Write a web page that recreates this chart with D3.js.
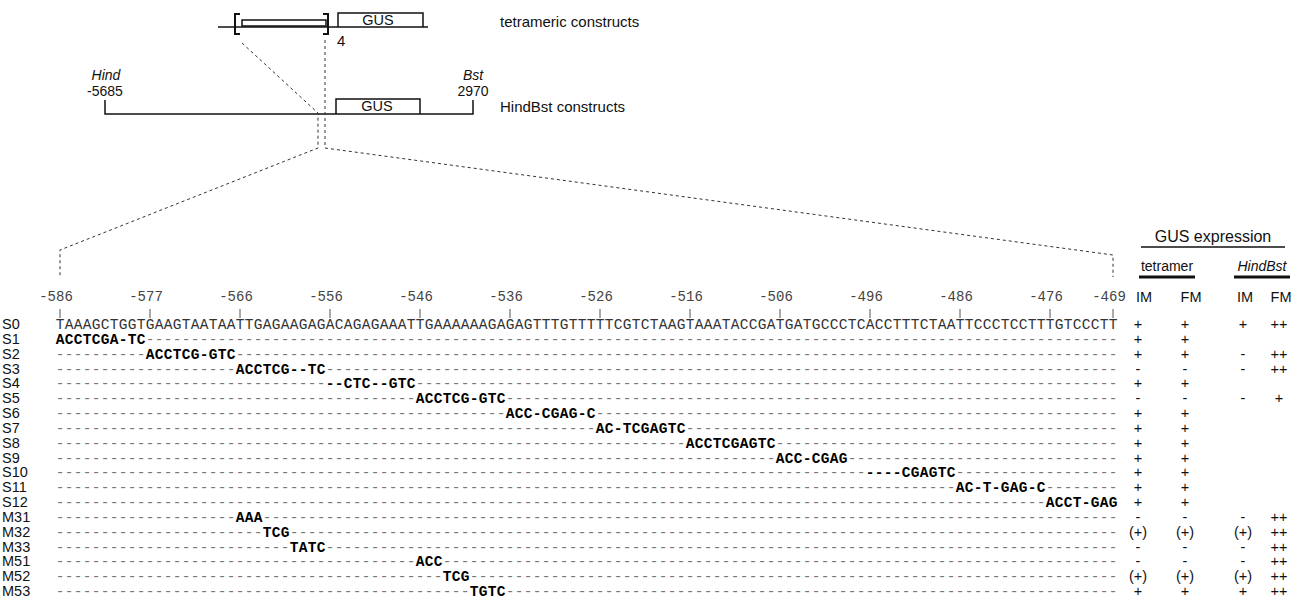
<!DOCTYPE html>
<html>
<head>
<meta charset="utf-8">
<script src="https://cdn.jsdelivr.net/npm/d3@7"></script>
<style>
  body { margin: 0; background: #fff; }
  svg { display: block; }
  .sans { font-family: "Liberation Sans", Arial, sans-serif; }
  .mono { font-family: "Liberation Mono", "Courier New", monospace; }
</style>
</head>
<body>
<div id="chart"></div>
<script>
// ---- data ----
const wildType = "TAAAGCTGGTGAAGTAATAATTGAGAAGAGACAGAGAAATTGAAAAAAGAGAGTTTGTTTTTCGTCTAAGTAAATACCGATGATGCCCTCACCTTTCTAATTCCCTCCTTTGTCCCTT";
const tickLabels = ["-586", "-577", "-566", "-556", "-546", "-536", "-526", "-516", "-506", "-496", "-486", "-476", "-469"];
const tickIndex = [0, 10, 20, 30, 40, 50, 60, 70, 80, 90, 100, 110, 117];

const constructs = ["S0", "S1", "S2", "S3", "S4", "S5", "S6", "S7", "S8", "S9", "S10", "S11", "S12",
                    "M31", "M32", "M33", "M51", "M52", "M53"];
// mutated block per construct (S0 = wild type)
const mutStart = [null, 0, 10, 20, 30, 40, 50, 60, 70, 80, 90, 100, 110, 20, 23, 26, 40, 43, 46];
const mutSeq = [null, "ACCTCGA-TC", "ACCTCG-GTC", "ACCTCG--TC", "--CTC--GTC", "ACCTCG-GTC", "ACC-CGAG-C",
                "AC-TCGAGTC", "ACCTCGAGTC", "ACC-CGAG", "----CGAGTC", "AC-T-GAG-C", "ACCT-GAG",
                "AAA", "TCG", "TATC", "ACC", "TCG", "TGTC"];

const exprColumns = ["IM", "FM", "IM", "FM"];
const tetramerIM = ["+", "+", "+", "-", "+", "-", "+", "+", "+", "+", "+", "+", "+", "-", "(+)", "-", "-", "(+)", "+"];
const tetramerFM = ["+", "+", "+", "-", "+", "-", "+", "+", "+", "+", "+", "+", "+", "-", "(+)", "-", "-", "(+)", "+"];
const hindBstIM  = ["+", "", "-", "-", "", "-", "", "", "", "", "", "", "", "-", "(+)", "-", "-", "(+)", "+"];
const hindBstFM  = ["++", "", "++", "++", "", "+", "", "", "", "", "", "", "", "++", "++", "++", "++", "++", "++"];

// ---- layout ----
const W = 1298, H = 603;
const svg = d3.select("#chart").append("svg")
    .attr("width", W)
    .attr("height", H);

const xScale = d3.scaleLinear().domain([0, wildType.length - 1]).range([60, 1113]);
const yScale = d3.scalePoint().domain(constructs).range([324, 591]);
const colX = d3.scaleOrdinal().domain([0, 1, 2, 3]).range([1138, 1185, 1243, 1279]);

const ink = "#111";

// ---- top construct diagram ----
const diagram = svg.append("g").attr("stroke", ink).attr("fill", "none");

// tetrameric construct
diagram.append("line").attr("x1", 218).attr("x2", 428).attr("y1", 27).attr("y2", 27).attr("stroke-width", 1.5);
diagram.append("rect").attr("x", 242).attr("y", 20).attr("width", 84).attr("height", 6).attr("stroke-width", 1.5);
diagram.append("path").attr("d", "M240,14 H235 V34 H240").attr("stroke-width", 2);
diagram.append("path").attr("d", "M323,14 H328 V34 H323").attr("stroke-width", 2);
diagram.append("path").attr("d", "M338,27 V13 H423 V27").attr("stroke-width", 1.5);

// HindBst construct
diagram.append("path").attr("d", "M105,100 V114 H473 V100").attr("stroke-width", 1.5);
diagram.append("path").attr("d", "M336,114 V99 H420 V114").attr("stroke-width", 1.5);

// zoom-in guide lines
const guides = [
    [[242, 43], [318, 113], [318, 148], [60, 250], [60, 277]],
    [[325, 40], [325, 148], [1113, 255], [1113, 277]]
];
svg.append("g").selectAll("path").data(guides).join("path")
    .attr("d", d3.line())
    .attr("fill", "none")
    .attr("stroke", "#333")
    .attr("stroke-width", 1)
    .attr("stroke-dasharray", "3,3");

const labels = svg.append("g").attr("class", "sans").attr("fill", ink).attr("font-size", 15);
labels.append("text").attr("x", 378).attr("y", 25).attr("text-anchor", "middle").attr("font-size", 14.5).text("GUS");
labels.append("text").attr("x", 377).attr("y", 111).attr("text-anchor", "middle").attr("font-size", 14.5).text("GUS");
labels.append("text").attr("x", 337).attr("y", 46).text("4");
labels.append("text").attr("x", 500).attr("y", 27).text("tetrameric constructs");
labels.append("text").attr("x", 500).attr("y", 112).text("HindBst constructs");
const ends = labels.append("g").attr("font-size", 14).attr("text-anchor", "middle");
ends.append("text").attr("x", 106).attr("y", 80).attr("font-style", "italic").text("Hind");
ends.append("text").attr("x", 105).attr("y", 96).text("-5685");
ends.append("text").attr("x", 473).attr("y", 80).attr("font-style", "italic").text("Bst");
ends.append("text").attr("x", 473).attr("y", 96).text("2970");

// ---- position ticks ----
const ticks = svg.append("g");
ticks.selectAll("line").data(tickIndex).join("line")
    .attr("x1", d => xScale(d)).attr("x2", d => xScale(d))
    .attr("y1", 309).attr("y2", 318)
    .attr("stroke", "#555").attr("stroke-width", 1);
ticks.selectAll("text").data(tickLabels).join("text")
    .attr("class", "mono")
    .attr("x", (d, i) => xScale(tickIndex[i]) - 4)
    .attr("y", 301)
    .attr("text-anchor", "middle")
    .attr("font-size", 14)
    .attr("fill", "#444")
    .text(d => d);

// ---- alignment rows ----
const rows = svg.append("g").selectAll("g.row")
    .data(constructs)
    .join("g")
    .attr("class", "row")
    .attr("transform", d => `translate(0,${yScale(d)})`);

rows.append("text")
    .attr("class", "sans")
    .attr("x", 2).attr("y", 5)
    .attr("font-size", 14.5)
    .attr("fill", ink)
    .text(d => d);

// one glyph per base, placed on the position scale
rows.each(function(name, r) {
    const chars = d3.range(wildType.length).map(i => {
        if (r === 0) return { i, c: wildType[i], kind: "wt" };
        const s = mutStart[r], m = mutSeq[r];
        if (i >= s && i < s + m.length) return { i, c: m[i - s], kind: "mut" };
        return { i, c: "-", kind: "same" };
    });
    d3.select(this).append("g").selectAll("text").data(chars).join("text")
        .attr("class", "mono")
        .attr("x", d => xScale(d.i))
        .attr("y", 5)
        .attr("text-anchor", "middle")
        .attr("font-size", 14.5)
        .attr("font-weight", d => d.kind === "mut" ? "bold" : "normal")
        .attr("fill", d => d.kind === "wt" ? "#333" : (d.kind === "mut" ? "#000" : "#777"))
        .text(d => d.c);
});

// ---- GUS expression table ----
const expr = [tetramerIM, tetramerFM, hindBstIM, hindBstFM];
const head = svg.append("g").attr("class", "sans").attr("fill", ink);
head.append("text").attr("x", 1213).attr("y", 242).attr("text-anchor", "middle").attr("font-size", 16).text("GUS expression");
head.append("line").attr("x1", 1141).attr("x2", 1285).attr("y1", 247).attr("y2", 247).attr("stroke", ink).attr("stroke-width", 1.5);
head.append("text").attr("x", 1167).attr("y", 271).attr("text-anchor", "middle").attr("font-size", 14).text("tetramer");
head.append("text").attr("x", 1262).attr("y", 271).attr("text-anchor", "middle").attr("font-size", 14).attr("font-style", "italic").text("HindBst");
head.append("line").attr("x1", 1139).attr("x2", 1195).attr("y1", 277).attr("y2", 277).attr("stroke", ink).attr("stroke-width", 3);
head.append("line").attr("x1", 1234).attr("x2", 1290).attr("y1", 277).attr("y2", 277).attr("stroke", ink).attr("stroke-width", 3);
head.selectAll("text.col").data(exprColumns).join("text")
    .attr("class", "col")
    .attr("x", (d, i) => colX(i) + (i < 2 ? 6 : 2))
    .attr("y", 302)
    .attr("text-anchor", "middle")
    .attr("font-size", 14.5)
    .text(d => d);

const cells = [];
expr.forEach((col, c) => col.forEach((v, r) => { if (v) cells.push({ c, r, v }); }));
svg.append("g").attr("class", "sans").selectAll("text").data(cells).join("text")
    .attr("x", d => colX(d.c))
    .attr("y", d => yScale(constructs[d.r]) + 5)
    .attr("text-anchor", "middle")
    .attr("font-size", 14.5)
    .attr("fill", ink)
    .text(d => d.v);
</script>
</body>
</html>
